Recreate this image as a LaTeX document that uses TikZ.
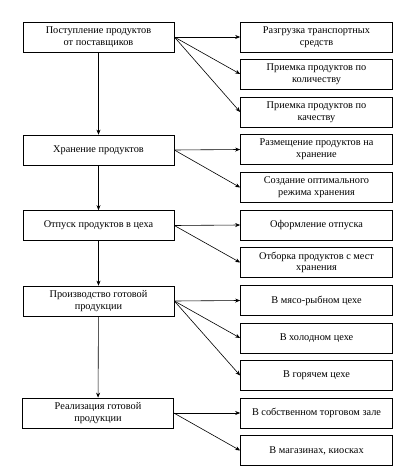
\documentclass[tikz,border=0pt]{standalone}
\usepackage{fontspec}
\setmainfont{Liberation Serif}
\usetikzlibrary{arrows.meta}
\begin{document}
\begin{tikzpicture}[x=1pt,y=-1pt,
  lbox/.style={draw,line width=0.7pt,minimum width=151pt,minimum height=30pt,inner sep=1pt,align=center,font=\fontsize{10.3}{11.8}\selectfont},
  rbox/.style={draw,line width=0.7pt,minimum width=152pt,minimum height=30pt,inner sep=1pt,align=center,font=\fontsize{10.3}{11.8}\selectfont},
  arr/.style={line width=0.6pt,-{Stealth[length=5pt,width=4pt]}}]
\useasboundingbox (0,0) rectangle (401,470);
% left column
\node[lbox] (L1) at (98.5,37) {Поступление продуктов\\от поставщиков};
\node[lbox] (L2) at (98.5,150) {Хранение продуктов};
\node[lbox] (L3) at (98.5,225.5) {Отпуск продуктов в цеха};
\node[lbox] (L4) at (98.5,301) {Производство готовой\\продукции};
\node[lbox] (L5) at (98,413) {Реализация готовой\\продукции};
% right column
\node[rbox] (R1) at (316.5,37) {Разгрузка транспортных\\средств};
\node[rbox] (R2) at (316.5,74) {Приемка продуктов по\\количеству};
\node[rbox] (R3) at (316.5,112) {Приемка продуктов по\\качеству};
\node[rbox] (R4) at (316.5,149.5) {Размещение продуктов на\\хранение};
\node[rbox] (R5) at (316.5,187.5) {Создание оптимального\\режима хранения};
\node[rbox] (R6) at (316.5,225) {Оформление отпуска};
\node[rbox] (R7) at (316.5,262.5) {Отборка продуктов с мест\\хранения};
\node[rbox] (R8) at (316.5,300.5) {В мясо-рыбном цехе};
\node[rbox] (R9) at (316.5,338) {В холодном цехе};
\node[rbox] (R10) at (316.5,375.5) {В горячем цехе};
\node[rbox] (R11) at (316.5,413) {В собственном торговом зале};
\node[rbox] (R12) at (316.5,450.5) {В магазинах, киосках};
% vertical arrows
\draw[arr] (L1) -- (L2);
\draw[arr] (L2) -- (L3);
\draw[arr] (L3) -- (L4);
\draw[arr] (L4) -- (L5);
% branch arrows
\draw[arr] (L1.east) -- (R1.west);
\draw[arr] (L1.east) -- (R2.west);
\draw[arr] (L1.east) -- (R3.west);
\draw[arr] (L2.east) -- (R4.west);
\draw[arr] (L2.east) -- (R5.west);
\draw[arr] (L3.east) -- (R6.west);
\draw[arr] (L3.east) -- (R7.west);
\draw[arr] (L4.east) -- (R8.west);
\draw[arr] (L4.east) -- (R9.west);
\draw[arr] (L4.east) -- (R10.west);
\draw[arr] (L5.east) -- (R11.west);
\draw[arr] (L5.east) -- (R12.west);
\end{tikzpicture}
\end{document}
